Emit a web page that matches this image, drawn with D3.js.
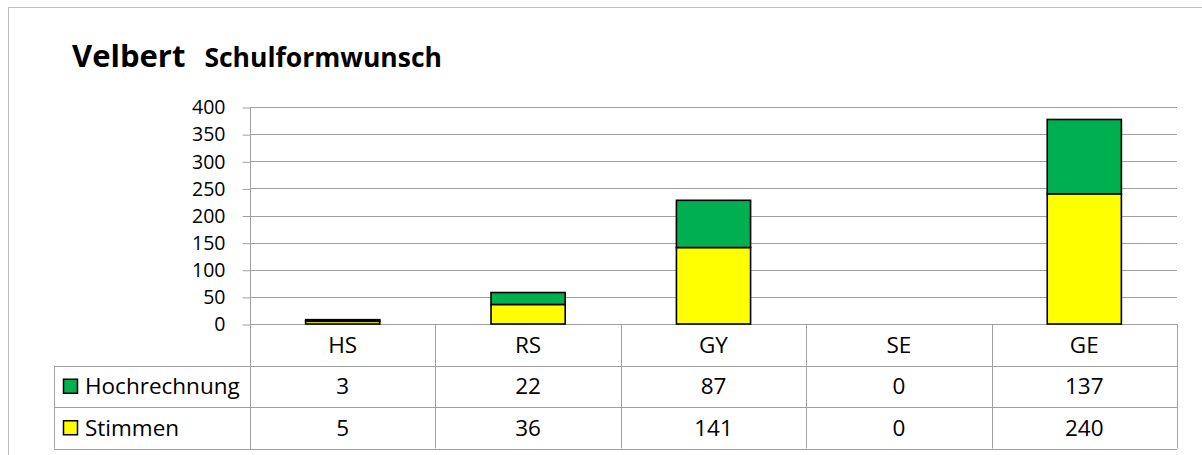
<!DOCTYPE html>
<html>
<head>
<meta charset="utf-8">
<script src="https://cdn.jsdelivr.net/npm/d3@7"></script>
<style>
  body { margin: 0; background: #fff; }
  svg text { font-family: "Open Sans", "Noto Sans", sans-serif; fill: #000; }
</style>
</head>
<body>
<div id="chart"></div>
<script>
// Chart data
const categories = ["HS", "RS", "GY", "SE", "GE"];
const stimmen = [5, 36, 141, 0, 240];
const hochrechnung = [3, 22, 87, 0, 137];
const yTicks = [0, 50, 100, 150, 200, 250, 300, 350, 400];
const seriesNames = ["Hochrechnung", "Stimmen"];
const seriesColors = ["#00B050", "#FFFF00"];

const width = 1202;
const height = 455;
const plot = { left: 250, right: 1177, top: 107, bottom: 324 };
const rowH = 41.5;
const legendLeft = 54;
const gridColor = "#a0a0a0";
const fontSize = 22.5;
const tickFontSize = 19.5;

const svg = d3.select("#chart")
    .append("svg")
    .attr("width", width)
    .attr("height", height);

// Outer chart border
svg.append("rect")
    .attr("x", 8.5)
    .attr("y", 7.5)
    .attr("width", 1300)
    .attr("height", 500)
    .attr("fill", "none")
    .attr("stroke", "#bdbdbd");

// Title
const title = svg.append("text")
    .attr("x", 72)
    .attr("y", 67)
    .attr("font-weight", "bold");
title.append("tspan").attr("font-size", 31).text("Velbert");
title.append("tspan").attr("font-size", 26.5).attr("dx", 19).text("Schulformwunsch");

// Scales
const x = d3.scaleBand()
    .domain(categories)
    .range([plot.left, plot.right])
    .padding(0);

const y = d3.scaleLinear()
    .domain([0, 400])
    .range([plot.bottom, plot.top]);

// Gridlines
svg.append("g")
    .selectAll("line")
    .data(yTicks)
    .enter()
    .append("line")
    .attr("x1", plot.left)
    .attr("x2", plot.right)
    .attr("y1", d => Math.round(y(d)) + 0.5)
    .attr("y2", d => Math.round(y(d)) + 0.5)
    .attr("stroke", gridColor);

// Y axis
const yAxis = svg.append("g")
    .attr("transform", `translate(${plot.left + 0.5},0.5)`)
    .call(d3.axisLeft(y).tickValues(yTicks).tickSize(8).tickPadding(17));
yAxis.select(".domain").attr("stroke", gridColor).attr("d", `M0,${plot.top}V${plot.bottom + 3 * rowH}`);
yAxis.selectAll(".tick line").attr("stroke", gridColor);
yAxis.selectAll(".tick text")
    .attr("font-size", tickFontSize)
    .attr("font-family", "Open Sans, sans-serif");

// Stacked bars
const stackData = categories.map((c, i) => ({ cat: c, Stimmen: stimmen[i], Hochrechnung: hochrechnung[i] }));
const stacked = d3.stack().keys(["Stimmen", "Hochrechnung"])(stackData);
const color = d3.scaleOrdinal().domain(seriesNames).range(seriesColors);
const barW = x.bandwidth() * 0.4;

svg.append("g")
    .selectAll("g")
    .data(stacked)
    .enter()
    .append("g")
    .attr("fill", d => color(d.key))
    .selectAll("rect")
    .data(d => d.filter(s => s[1] - s[0] > 0))
    .enter()
    .append("rect")
    .attr("x", d => x(d.data.cat) + (x.bandwidth() - barW) / 2)
    .attr("y", d => y(d[1]))
    .attr("width", barW)
    .attr("height", d => y(d[0]) - y(d[1]))
    .attr("stroke", "#000")
    .attr("stroke-width", 1.6);

// Data table
const table = svg.append("g");
const rowsY = [plot.bottom, plot.bottom + rowH, plot.bottom + 2 * rowH, plot.bottom + 3 * rowH];

// horizontal lines
table.selectAll(".hline")
    .data(rowsY.slice(1))
    .enter()
    .append("line")
    .attr("x1", legendLeft)
    .attr("x2", plot.right)
    .attr("y1", d => Math.round(d) + 0.5)
    .attr("y2", d => Math.round(d) + 0.5)
    .attr("stroke", gridColor);

// vertical lines
const colEdges = categories.map(c => x(c)).concat([plot.right]);
table.selectAll(".vline")
    .data(colEdges.slice(1))
    .enter()
    .append("line")
    .attr("x1", d => Math.round(d) + 0.5)
    .attr("x2", d => Math.round(d) + 0.5)
    .attr("y1", plot.bottom)
    .attr("y2", rowsY[3])
    .attr("stroke", gridColor);
table.append("line")
    .attr("x1", legendLeft + 0.5)
    .attr("x2", legendLeft + 0.5)
    .attr("y1", rowsY[1])
    .attr("y2", rowsY[3])
    .attr("stroke", gridColor);

// category labels
table.selectAll(".cat")
    .data(categories)
    .enter()
    .append("text")
    .attr("x", d => x(d) + x.bandwidth() / 2)
    .attr("y", plot.bottom + rowH / 2)
    .attr("dy", "0.35em")
    .attr("text-anchor", "middle")
    .attr("font-size", fontSize)
    .text(d => d);

// value rows
const rows = [hochrechnung, stimmen];
rows.forEach((vals, r) => {
    const cy = rowsY[r + 1] + rowH / 2;
    table.selectAll(".val" + r)
        .data(vals)
        .enter()
        .append("text")
        .attr("x", (d, i) => x(categories[i]) + x.bandwidth() / 2)
        .attr("y", cy)
        .attr("dy", "0.35em")
        .attr("text-anchor", "middle")
        .attr("font-size", fontSize)
        .text(d => d);

    // legend key
    table.append("rect")
        .attr("x", 63.5)
        .attr("y", cy - 7)
        .attr("width", 14)
        .attr("height", 14)
        .attr("fill", color(seriesNames[r]))
        .attr("stroke", "#000")
        .attr("stroke-width", 1.5);
    table.append("text")
        .attr("x", 85)
        .attr("y", cy)
        .attr("dy", "0.35em")
        .attr("font-size", fontSize)
        .text(seriesNames[r]);
});
</script>
</body>
</html>
